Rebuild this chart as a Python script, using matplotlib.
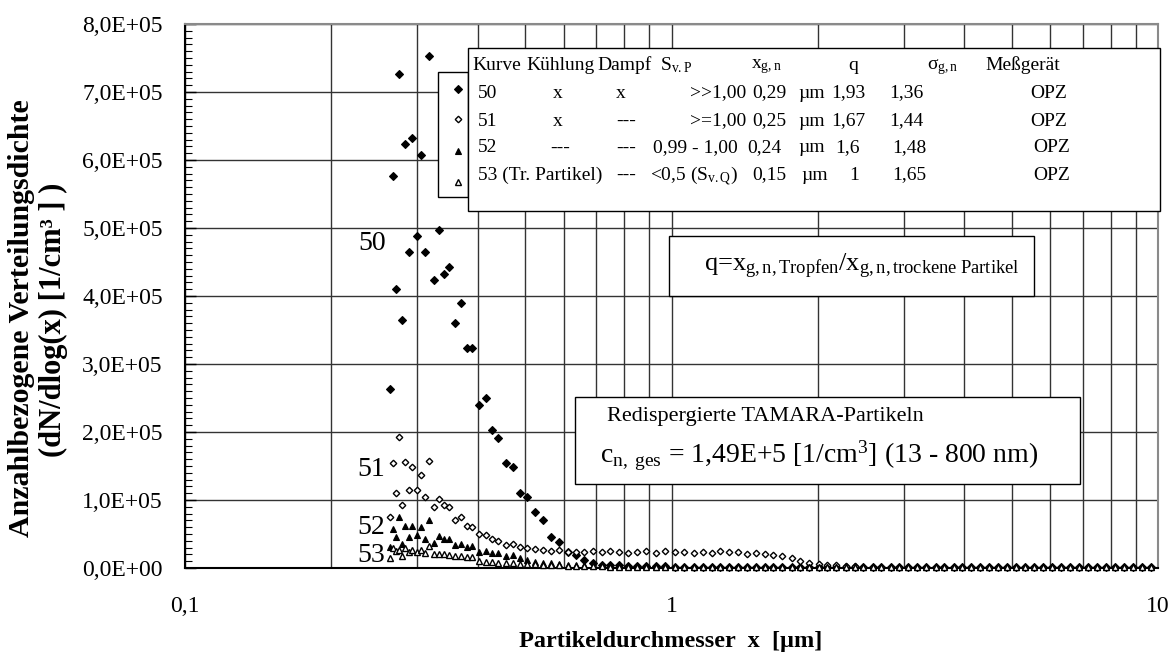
import matplotlib
matplotlib.use("Agg")
import matplotlib.pyplot as plt
from matplotlib.patches import Rectangle
from matplotlib.ticker import FixedLocator, MultipleLocator, FuncFormatter, NullFormatter, LogLocator

plt.rcParams['font.family'] = ['Liberation Serif', 'DejaVu Serif']
plt.rcParams['mathtext.fontset'] = 'custom'
plt.rcParams['mathtext.rm'] = 'Liberation Serif'
plt.rcParams['mathtext.it'] = 'Liberation Serif:italic'
plt.rcParams['mathtext.bf'] = 'Liberation Serif:bold'

W, H = 1173, 657

# OPZ channel diameters [µm]
diam_peak = [0.2638, 0.2672, 0.2711, 0.2750, 0.2793, 0.2837, 0.2887, 0.2933, 0.2995, 0.3052,
             0.3119, 0.3174, 0.3250, 0.3333, 0.3407, 0.3494, 0.3589, 0.3687, 0.3793, 0.3895,
             0.4015, 0.4150, 0.4276, 0.4406, 0.4562, 0.4716, 0.4889, 0.5047, 0.5241, 0.5436,
             0.5653, 0.5880, 0.6118, 0.6356, 0.6619, 0.6887, 0.7187, 0.7474, 0.7800, 0.8128,
             0.8482, 0.8851, 0.9279, 0.9697, 1.017]
diam_tail = [1.06, 1.11, 1.16, 1.21, 1.26, 1.31, 1.37, 1.43, 1.49, 1.56,
             1.62, 1.69, 1.77, 1.84, 1.92, 2.01, 2.09, 2.18, 2.28, 2.38,
             2.48, 2.59, 2.70, 2.82, 2.94, 3.07, 3.20, 3.34, 3.49, 3.64,
             3.80, 3.96, 4.13, 4.31, 4.50, 4.69, 4.90, 5.11, 5.33, 5.56,
             5.80, 6.05, 6.32, 6.59, 6.88, 7.17, 7.49, 7.81, 8.15, 8.50,
             8.87, 9.26, 9.66]

# dN/dlog(x) in units of 1E+05 1/cm³
n50_peak = [2.63, 5.77, 4.10, 7.26, 3.65, 6.24, 4.64, 6.32, 4.88, 6.08,
            4.64, 7.53, 4.24, 4.97, 4.32, 4.42, 3.61, 3.90, 3.24, 3.24,
            2.39, 2.50, 2.03, 1.91, 1.54, 1.49, 1.11, 1.04, 0.82, 0.70,
            0.45, 0.38, 0.23, 0.19, 0.12, 0.07, 0.05, 0.045, 0.04, 0.035,
            0.03, 0.03, 0.025, 0.025, 0.02]
n50_tail = [0.02, 0.02, 0.02, 0.018, 0.018, 0.016, 0.016, 0.015, 0.015, 0.015,
            0.012, 0.012, 0.012, 0.012, 0.012, 0.012, 0.012, 0.012, 0.012, 0.012,
            0.01, 0.01, 0.01, 0.01, 0.01, 0.01, 0.01, 0.01, 0.01, 0.01,
            0.01, 0.01, 0.01, 0.01, 0.01, 0.01, 0.01, 0.01, 0.01, 0.01,
            0.01, 0.01, 0.01, 0.01, 0.01, 0.01, 0.01, 0.01, 0.01, 0.01,
            0.01, 0.01, 0.01]

n51_peak = [0.75, 1.55, 1.10, 1.93, 0.92, 1.56, 1.14, 1.48, 1.14, 1.37,
            1.04, 1.58, 0.90, 1.01, 0.92, 0.89, 0.70, 0.75, 0.62, 0.61,
            0.50, 0.48, 0.42, 0.39, 0.34, 0.36, 0.31, 0.30, 0.28, 0.26,
            0.25, 0.26, 0.23, 0.24, 0.23, 0.25, 0.23, 0.25, 0.23, 0.225,
            0.24, 0.25, 0.215, 0.25, 0.23]
n51_tail = [0.24, 0.22, 0.24, 0.22, 0.25, 0.23, 0.24, 0.21, 0.22, 0.20,
            0.19, 0.17, 0.14, 0.11, 0.08, 0.06, 0.05, 0.04, 0.03, 0.03,
            0.02, 0.02, 0.02, 0.02, 0.018, 0.018, 0.016, 0.016, 0.015, 0.015,
            0.015, 0.015, 0.015, 0.015, 0.015, 0.015, 0.015, 0.015, 0.015, 0.015,
            0.015, 0.015, 0.015, 0.015, 0.015, 0.015, 0.015, 0.015, 0.015, 0.015,
            0.015, 0.015, 0.015]

n52_peak = [0.31, 0.57, 0.45, 0.75, 0.36, 0.62, 0.46, 0.62, 0.48, 0.61,
            0.43, 0.70, 0.37, 0.47, 0.43, 0.42, 0.34, 0.36, 0.31, 0.32,
            0.24, 0.25, 0.225, 0.215, 0.18, 0.19, 0.15, 0.12, 0.09, 0.08,
            0.07, 0.06, 0.05, 0.045, 0.04, 0.035, 0.03, 0.03, 0.028, 0.026,
            0.025, 0.024, 0.022, 0.021, 0.02]
n52_tail = [0.02, 0.02, 0.02, 0.02, 0.018, 0.018, 0.018, 0.016, 0.016, 0.016,
            0.015, 0.015, 0.015, 0.015, 0.015, 0.015, 0.015, 0.015, 0.015, 0.015,
            0.015, 0.015, 0.015, 0.015, 0.015, 0.015, 0.015, 0.015, 0.015, 0.015,
            0.015, 0.015, 0.015, 0.015, 0.015, 0.015, 0.015, 0.015, 0.015, 0.015,
            0.015, 0.015, 0.015, 0.015, 0.015, 0.015, 0.015, 0.015, 0.015, 0.015,
            0.015, 0.015, 0.015]

n53_peak = [0.14, 0.30, 0.25, 0.27, 0.18, 0.30, 0.24, 0.27, 0.24, 0.27,
            0.215, 0.33, 0.20, 0.20, 0.20, 0.19, 0.18, 0.18, 0.16, 0.155,
            0.10, 0.095, 0.09, 0.08, 0.075, 0.07, 0.065, 0.06, 0.055, 0.05,
            0.045, 0.04, 0.035, 0.03, 0.03, 0.025, 0.025, 0.02, 0.02, 0.02,
            0.02, 0.018, 0.018, 0.016, 0.016]
n53_tail = [0.015, 0.015, 0.015, 0.015, 0.015, 0.015, 0.015, 0.015, 0.015, 0.015,
            0.015, 0.015, 0.015, 0.015, 0.015, 0.015, 0.015, 0.015, 0.015, 0.015,
            0.015, 0.015, 0.015, 0.015, 0.015, 0.015, 0.015, 0.015, 0.015, 0.015,
            0.015, 0.015, 0.015, 0.015, 0.015, 0.015, 0.015, 0.015, 0.015, 0.015,
            0.015, 0.015, 0.015, 0.015, 0.015, 0.015, 0.015, 0.015, 0.015, 0.015,
            0.015, 0.015, 0.015]

# table contents
table_header = ['Kurve', 'Kühlung', 'Dampf', r'$\mathrm{S_{v.P}}$', r'$\mathrm{x_{g,n}}$',
                'q', r'$\mathrm{σ_{g,n}}$', 'Meßgerät']
header_x = [472, 526, 597, 660, 751, 848, 927, 985]
table_rows = [
    [('50', 478), ('x', 553), ('x', 616), ('>>1,00', 690), ('0,29', 752), ('µm', 798),
     ('1,93', 831), ('1,36', 889), ('OPZ', 1030)],
    [('51', 478), ('x', 553), ('---', 616), ('>=1,00', 690), ('0,25', 752), ('µm', 798),
     ('1,67', 831), ('1,44', 889), ('OPZ', 1030)],
    [('52', 478), ('---', 550), ('---', 616), ('0,99 - 1,00', 653), ('0,24', 747), ('µm', 798),
     ('1,6', 835), ('1,48', 892), ('OPZ', 1033)],
    [('53 (Tr. Partikel)', 478), ('---', 616), (r'<0,5 ($\mathrm{S_{v.Q}}$)', 650), ('0,15', 752),
     ('µm', 801), ('1', 849), ('1,65', 892), ('OPZ', 1033)],
]
row_y = [63, 91, 119, 146, 173]


def fx(px):
    return px / W


def fy(py):
    return 1 - py / H


def fig_box(fig, x0, y0, x1, y1, **kw):
    r = Rectangle((fx(x0), fy(y1)), (x1 - x0) / W, (y1 - y0) / H,
                  transform=fig.transFigure, fc='white', ec='black', lw=1.0, zorder=3, **kw)
    fig.add_artist(r)
    return r


fig = plt.figure(figsize=(W / 100, H / 100), dpi=100)
ax = fig.add_axes([fx(185), fy(568), (1158 - 185) / W, (568 - 24) / H])

scale = 1e5
diam = diam_peak + diam_tail
styles = [
    (n50_peak + n50_tail, dict(marker='D', ms=3.7, mfc='black', mec='black', mew=0.8)),
    (n51_peak + n51_tail, dict(marker='D', ms=3.3, mfc='white', mec='black', mew=1.0)),
    (n52_peak + n52_tail, dict(marker='^', ms=4.8, mfc='black', mec='black', mew=0.8)),
    (n53_peak + n53_tail, dict(marker='^', ms=4.8, mfc='white', mec='black', mew=1.0)),
]
lines = []
for vals, st in styles:
    ln, = ax.plot(diam, [v * scale for v in vals], linestyle='none', clip_on=False, zorder=4, **st)
    lines.append(ln)

ax.set_xscale('log')
ax.set_xlim(0.1, 10)
ax.set_ylim(0, 8e5)

ax.xaxis.set_major_locator(FixedLocator([0.1, 1, 10]))
ax.xaxis.set_major_formatter(FuncFormatter(lambda v, p: {0.1: '0,1', 1: '1', 10: '10'}.get(round(v, 3), '')))
ax.xaxis.set_minor_locator(LogLocator(base=10, subs=[2, 3, 4, 5, 6, 7, 8, 9]))
ax.xaxis.set_minor_formatter(NullFormatter())
ax.yaxis.set_major_locator(MultipleLocator(1e5))
ax.yaxis.set_minor_locator(MultipleLocator(1e4))
ax.yaxis.set_major_formatter(FuncFormatter(
    lambda v, p: '0,0E+00' if v == 0 else f'{v / 1e5:.1f}E+05'.replace('.', ',')))

ax.tick_params(axis='x', which='both', length=0, labelsize=17, pad=20)
ax.tick_params(axis='y', which='major', direction='in', length=8, width=1, labelsize=17, pad=16)
ax.tick_params(axis='y', which='minor', direction='in', length=5, width=0.8)

ax.grid(True, which='major', axis='y', color='#333333', lw=1.0)
ax.grid(True, which='both', axis='x', color='#333333', lw=1.0)
ax.set_axisbelow(True)
for side in ['left', 'bottom']:
    ax.spines[side].set_linewidth(1.5)
    ax.spines[side].set_color('black')
for side in ['top', 'right']:
    ax.spines[side].set_linewidth(1.5)
    ax.spines[side].set_color('#8a8a8a')

# axis titles
fig.text(fx(671), fy(641), 'Partikeldurchmesser  x  [µm]', fontsize=17.5, fontweight='bold',
         ha='center', va='center')
fig.text(fx(22), fy(318), 'Anzahlbezogene Verteilungsdichte', fontsize=21.5, fontweight='bold',
         rotation=90, ha='center', va='center')
fig.text(fx(53), fy(320), '(dN/dlog(x) [1/cm³ ] )', fontsize=22, fontweight='bold',
         rotation=90, ha='center', va='center')

# curve labels
for lab, (cx, cy) in zip(['50', '51', '52', '53'], [(372, 244), (371, 469), (371, 528), (371, 555)]):
    fig.text(fx(cx), fy(cy), lab, fontsize=20, ha='center', va='center', zorder=5)

# marker key and parameter table
fig_box(fig, 438, 72, 468, 197)
fig_box(fig, 468, 48, 1160, 211)
key_y = [89, 119, 151, 182]
for ln, ky in zip(lines, key_y):
    fig.add_artist(plt.Line2D([fx(458)], [fy(ky)], transform=fig.transFigure, linestyle='none',
                              marker=ln.get_marker(), ms=ln.get_markersize(), mfc=ln.get_mfc(),
                              mec=ln.get_mec(), mew=ln.get_mew(), zorder=5))

for txt, hx in zip(table_header, header_x):
    fig.text(fx(hx), fy(row_y[0]), txt, fontsize=14, ha='left', va='center_baseline', zorder=5)
for row, ry in zip(table_rows, row_y[1:]):
    for txt, cx in row:
        fig.text(fx(cx), fy(ry), txt, fontsize=14, ha='left', va='center_baseline', zorder=5)

# ratio definition box
fig_box(fig, 669, 236, 1034, 296)
fig.text(fx(704), fy(266), r'q=x$_{\mathrm{g,n,Tropfen}}$/x$_{\mathrm{g,n,trockene\ Partikel}}$',
         fontsize=19, ha='left', va='center', zorder=5)

# sample description box
fig_box(fig, 575, 397, 1080, 484)
fig.text(fx(607), fy(417), 'Redispergierte TAMARA-Partikeln', fontsize=16, ha='left',
         va='center', zorder=5)
fig.text(fx(600), fy(456), r'c$_{\mathrm{n,\ ges}}$ = 1,49E+5 [1/cm$^{3}$] (13 - 800 nm)',
         fontsize=20, ha='left', va='center', zorder=5)

fig.savefig('out.png', dpi=100)
